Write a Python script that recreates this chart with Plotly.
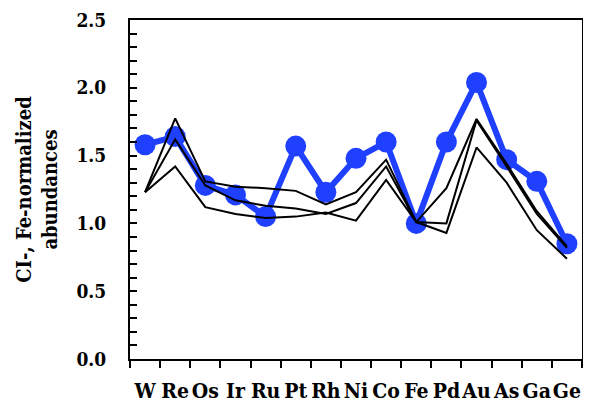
import plotly.graph_objects as go

elements = ["W", "Re", "Os", "Ir", "Ru", "Pt", "Rh", "Ni", "Co", "Fe", "Pd", "Au", "As", "Ga", "Ge"]

sample = [1.58, 1.64, 1.28, 1.21, 1.05, 1.57, 1.23, 1.48, 1.60, 1.00, 1.60, 2.04, 1.47, 1.31, 0.85]

model_a = [1.23, 1.775, 1.31, 1.27, 1.26, 1.24, 1.14, 1.23, 1.47, 1.01, 1.26, 1.77, 1.44, 1.09, 0.83]
model_b = [1.23, 1.62, 1.28, 1.17, 1.13, 1.11, 1.07, 1.15, 1.42, 1.01, 1.00, 1.76, 1.42, 1.07, 0.82]
model_c = [1.23, 1.42, 1.12, 1.07, 1.04, 1.05, 1.08, 1.02, 1.32, 1.01, 0.93, 1.56, 1.30, 0.95, 0.74]

y_tick_vals = [i / 10 for i in range(26)]
y_tick_text = [f"{v:.1f}" if i % 5 == 0 else "" for i, v in enumerate(y_tick_vals)]

FONT = "DejaVu Serif Condensed, DejaVu Serif"

fig = go.Figure()
fig.add_trace(go.Scatter(
    x=elements, y=sample, mode="lines+markers",
    line=dict(color="#1F40FF", width=6),
    marker=dict(color="#1F40FF", size=21),
    showlegend=False,
))
for m in (model_a, model_b, model_c):
    fig.add_trace(go.Scatter(
        x=elements, y=m, mode="lines",
        line=dict(color="black", width=2),
        showlegend=False,
    ))

# page body has an 8px margin, so the figure is drawn 8px in and down
fig.update_layout(
    width=583, height=400,
    margin=dict(l=122, r=9, t=12, b=49),
    paper_bgcolor="white", plot_bgcolor="white",
    font=dict(family=FONT, color="black"),
)
fig.update_xaxes(
    type="category", categoryorder="array", categoryarray=elements,
    range=[-0.5, 14.5], automargin=False,
    showline=True, linecolor="black", linewidth=2, mirror=True,
    showgrid=False, zeroline=False,
    ticks="outside", tickson="boundaries", ticklen=7, tickwidth=2, tickcolor="black",
    tickangle=0,
    tickfont=dict(family=FONT, size=21, color="black", weight="bold"),
    ticklabelstandoff=12,
)
fig.update_yaxes(
    range=[0, 2.5], automargin=False,
    tickmode="array", tickvals=y_tick_vals, ticktext=y_tick_text,
    showline=True, linecolor="black", linewidth=2, mirror=True,
    showgrid=False, zeroline=False,
    ticks="inside", ticklen=7, tickwidth=2, tickcolor="black",
    tickfont=dict(family=FONT, size=19, color="black", weight="bold"),
    ticklabelstandoff=18,
    title=dict(text="CI-, Fe-normalized<br>abundances",
               font=dict(family=FONT, size=20, color="black", weight="bold"),
               standoff=13),
)

fig.write_html("out.html")
